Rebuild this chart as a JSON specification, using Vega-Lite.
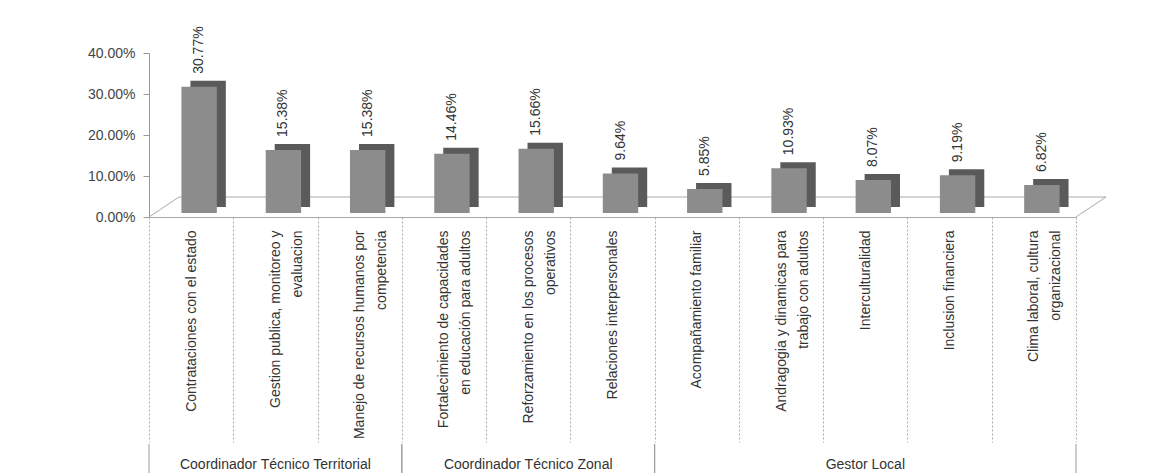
{
  "$schema": "https://vega.github.io/schema/vega-lite/v6.json",
  "background": "white",
  "padding": {"left": 87, "top": 26, "right": 5, "bottom": 0},
  "config": {"view": {"stroke": null}, "font": "Liberation Sans"},
  "spacing": 0,
  "datasets": {
    "capacitaciones": [
      {"puesto": "Coordinador Técnico Territorial", "tema": "Contrataciones con el estado", "porcentaje": 0.3077},
      {"puesto": "Coordinador Técnico Territorial", "tema": "Gestion publica, monitoreo y|evaluacion", "porcentaje": 0.1538},
      {"puesto": "Coordinador Técnico Territorial", "tema": "Manejo de recursos humanos por|competencia", "porcentaje": 0.1538},
      {"puesto": "Coordinador Técnico Zonal", "tema": "Fortalecimiento de capacidades|en educación para adultos", "porcentaje": 0.1446},
      {"puesto": "Coordinador Técnico Zonal", "tema": "Reforzamiento en los procesos|operativos", "porcentaje": 0.1566},
      {"puesto": "Coordinador Técnico Zonal", "tema": "Relaciones interpersonales", "porcentaje": 0.0964},
      {"puesto": "Gestor Local", "tema": "Acompañamiento familiar", "porcentaje": 0.0585},
      {"puesto": "Gestor Local", "tema": "Andragogia y dinamicas para|trabajo con adultos", "porcentaje": 0.1093},
      {"puesto": "Gestor Local", "tema": "Interculturalidad", "porcentaje": 0.0807},
      {"puesto": "Gestor Local", "tema": "Inclusion financiera", "porcentaje": 0.0919},
      {"puesto": "Gestor Local", "tema": "Clima laboral, cultura|organizacional", "porcentaje": 0.0682}
    ],
    "grupos": [
      {"grupo": "Coordinador Técnico Territorial", "inicio": "Contrataciones con el estado", "centro": "Gestion publica, monitoreo y|evaluacion", "fin": "Manejo de recursos humanos por|competencia"},
      {"grupo": "Coordinador Técnico Zonal", "inicio": "Fortalecimiento de capacidades|en educación para adultos", "centro": "Reforzamiento en los procesos|operativos", "fin": "Relaciones interpersonales"},
      {"grupo": "Gestor Local", "inicio": "Acompañamiento familiar", "centro": "Interculturalidad", "fin": "Clima laboral, cultura|organizacional"}
    ],
    "piso": [
      {"desde": "Contrataciones con el estado", "hasta": "Clima laboral, cultura|organizacional"}
    ]
  },
  "vconcat": [
    {
      "width": 927,
      "height": 164,
      "layer": [
        {
          "data": {"name": "piso"},
          "mark": {"type": "rule", "color": "#aaaaaa", "xOffset": 30, "x2Offset": 30, "yOffset": -20, "y2Offset": -20},
          "encoding": {
            "x": {"field": "desde", "type": "nominal", "bandPosition": 0},
            "x2": {"field": "hasta", "bandPosition": 1},
            "y": {"datum": 0, "type": "quantitative", "scale": {"domain": [0, 0.4], "nice": false}},
            "y2": {"datum": 0}
          }
        },
        {
          "data": {"name": "piso"},
          "mark": {"type": "rule", "color": "#aaaaaa", "x2Offset": 30, "y2Offset": -20},
          "encoding": {
            "x": {"field": "desde", "type": "nominal", "bandPosition": 0},
            "x2": {"field": "desde", "bandPosition": 0},
            "y": {"datum": 0, "type": "quantitative"},
            "y2": {"datum": 0}
          }
        },
        {
          "data": {"name": "piso"},
          "mark": {"type": "rule", "color": "#aaaaaa", "x2Offset": 30, "y2Offset": -20},
          "encoding": {
            "x": {"field": "hasta", "type": "nominal", "bandPosition": 1},
            "x2": {"field": "hasta", "bandPosition": 1},
            "y": {"datum": 0, "type": "quantitative"},
            "y2": {"datum": 0}
          }
        },
        {
          "data": {"name": "capacitaciones"},
          "mark": {"type": "bar", "color": "#5a5a5a", "width": {"band": 0.42}, "xOffset": 17, "x2Offset": 17, "yOffset": -10, "y2Offset": -10},
          "encoding": {
            "x": {"field": "tema", "type": "nominal"},
            "y": {"field": "porcentaje", "type": "quantitative"}
          }
        },
        {
          "data": {"name": "capacitaciones"},
          "mark": {"type": "bar", "color": "#8c8c8c", "width": {"band": 0.42}, "xOffset": 8, "x2Offset": 8, "yOffset": -4, "y2Offset": -4},
          "encoding": {
            "x": {
              "field": "tema", "type": "nominal", "sort": null,
              "scale": {"domain": [
                "Contrataciones con el estado",
                "Gestion publica, monitoreo y|evaluacion",
                "Manejo de recursos humanos por|competencia",
                "Fortalecimiento de capacidades|en educación para adultos",
                "Reforzamiento en los procesos|operativos",
                "Relaciones interpersonales",
                "Acompañamiento familiar",
                "Andragogia y dinamicas para|trabajo con adultos",
                "Interculturalidad",
                "Inclusion financiera",
                "Clima laboral, cultura|organizacional"
              ], "paddingInner": 0, "paddingOuter": 0},
              "axis": {
                "title": null,
                "labelAngle": 270,
                "labelAlign": "right",
                "labelBaseline": "middle",
                "labelFontSize": 14,
                "labelColor": "#333333",
                "labelExpr": "split(datum.label, '|')",
                "labelLineHeight": 22,
                "labelLimit": 300,
                "labelPadding": -212,
                "tickSize": 225,
                "tickBand": "extent",
                "tickColor": "#aaaaaa",
                "tickDash": [2, 2],
                "domainColor": "#aaaaaa"
              }
            },
            "y": {
              "field": "porcentaje", "type": "quantitative",
              "scale": {"domain": [0, 0.4], "nice": false},
              "axis": {
                "title": null,
                "format": ".2%",
                "values": [0, 0.1, 0.2, 0.3, 0.4],
                "labelFontSize": 14,
                "labelColor": "#444444",
                "labelPadding": 8,
                "tickSize": 6,
                "tickColor": "#999999",
                "domainColor": "#999999",
                "grid": false
              }
            }
          }
        },
        {
          "data": {"name": "capacitaciones"},
          "mark": {"type": "text", "angle": 270, "align": "left", "baseline": "middle", "fontSize": 14, "color": "#333333", "xOffset": 8, "yOffset": -17},
          "encoding": {
            "x": {"field": "tema", "type": "nominal"},
            "y": {"field": "porcentaje", "type": "quantitative"},
            "text": {"field": "porcentaje", "type": "quantitative", "format": ".2%"}
          }
        }
      ]
    },
    {
      "width": 927,
      "height": 33,
      "data": {"name": "grupos"},
      "layer": [
        {
          "mark": {"type": "rule", "color": "#999999"},
          "encoding": {"x": {"field": "inicio", "type": "nominal", "bandPosition": 0, "sort": null,
            "scale": {"domain": [
                "Contrataciones con el estado",
                "Gestion publica, monitoreo y|evaluacion",
                "Manejo de recursos humanos por|competencia",
                "Fortalecimiento de capacidades|en educación para adultos",
                "Reforzamiento en los procesos|operativos",
                "Relaciones interpersonales",
                "Acompañamiento familiar",
                "Andragogia y dinamicas para|trabajo con adultos",
                "Interculturalidad",
                "Inclusion financiera",
                "Clima laboral, cultura|organizacional"
              ], "paddingInner": 0, "paddingOuter": 0},
            "axis": null}}
        },
        {
          "mark": {"type": "rule", "color": "#999999"},
          "encoding": {"x": {"field": "fin", "type": "nominal", "bandPosition": 1, "axis": null}}
        },
        {
          "mark": {"type": "text", "fontSize": 14, "color": "#333333", "dy": 4},
          "encoding": {
            "x": {"field": "centro", "type": "nominal", "axis": null},
            "text": {"field": "grupo", "type": "nominal"}
          }
        }
      ]
    }
  ]
}
